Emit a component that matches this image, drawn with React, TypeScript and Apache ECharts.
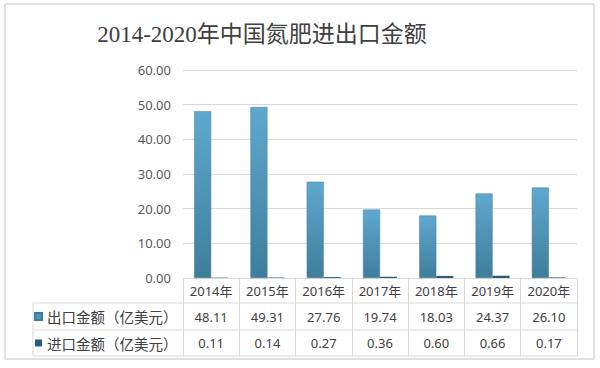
import React, { useEffect, useRef } from "react";
import * as echarts from "echarts";

const years = ["2014年", "2015年", "2016年", "2017年", "2018年", "2019年", "2020年"];
const exportVals = [48.11, 49.31, 27.76, 19.74, 18.03, 24.37, 26.1];
const importVals = [0.11, 0.14, 0.27, 0.36, 0.6, 0.66, 0.17];
const exportName = "出口金额（亿美元）";
const importName = "进口金额（亿美元）";
const titleText = "2014-2020年中国氮肥进出口金额";

export default function App() {
  const ref = useRef<HTMLDivElement>(null);
  useEffect(() => {
    if (!ref.current) return;
    const chart = echarts.init(ref.current, undefined, { renderer: "svg" });
    const lineColor = "#d9d9d9";
    const tableLeft = 33;
    const tableRight = 577;
    const rowYs = [303, 330, 356];
    const graphics: any[] = [
      {
        type: "rect",
        shape: { x: 5, y: 4, width: 589, height: 355 },
        style: { fill: "none", stroke: "#c4c4c4", lineWidth: 1 },
        silent: true,
      },
      ...rowYs.map((y) => ({
        type: "line",
        shape: { x1: tableLeft, y1: y, x2: tableRight, y2: y },
        style: { stroke: lineColor, lineWidth: 1 },
        silent: true,
      })),
      {
        type: "line",
        shape: { x1: tableLeft, y1: rowYs[0], x2: tableLeft, y2: rowYs[2] },
        style: { stroke: lineColor, lineWidth: 1 },
        silent: true,
      },
    ];
    chart.setOption({
      animation: false,
      backgroundColor: "#ffffff",
      textStyle: { fontFamily: "'Noto Sans', 'Noto Sans CJK SC', sans-serif" },
      title: {
        text: titleText,
        left: 257,
        textAlign: "center",
        top: 18,
        textStyle: {
          fontFamily: "'Liberation Serif', 'Noto Sans CJK SC', serif",
          fontSize: 23,
          fontWeight: "normal",
          color: "#404040",
        },
      },
      legend: {
        orient: "vertical",
        left: 34,
        top: 308.5,
        itemWidth: 7,
        itemHeight: 7,
        itemGap: 10.5,
        icon: "rect",
        padding: 0,
        textStyle: {
          fontSize: 14.5,
          lineHeight: 16,
          color: "#404040",
          fontFamily: "'Noto Sans CJK SC', sans-serif",
        },
        data: [
          { name: exportName, itemStyle: { color: "#4d95bb" } },
          { name: importName, itemStyle: { color: "#2c5a7e" } },
        ],
      },
      grid: { left: 183, right: 23, top: 70, bottom: 90, containLabel: false },
      xAxis: {
        type: "category",
        data: years,
        axisLine: { show: true, lineStyle: { color: lineColor } },
        axisTick: { show: true, length: 78, lineStyle: { color: lineColor } },
        axisLabel: {
          margin: 0,
          fontSize: 13,
          lineHeight: 26,
          color: "#404040",
          formatter: (v: string, i: number) =>
            `${v}\n${exportVals[i].toFixed(2)}\n${importVals[i].toFixed(2)}`,
        },
      },
      yAxis: {
        type: "value",
        min: 0,
        max: 60,
        interval: 10,
        axisLine: { show: false },
        axisTick: { show: false },
        axisLabel: {
          fontSize: 13,
          color: "#595959",
          margin: 12,
          formatter: (v: number) => v.toFixed(2),
        },
        splitLine: { lineStyle: { color: lineColor } },
      },
      series: [
        {
          name: exportName,
          type: "bar",
          data: exportVals,
          barWidth: 17,
          barGap: "0%",
          itemStyle: {
            color: new echarts.graphic.LinearGradient(0, 0, 0, 1, [
              { offset: 0, color: "#5ea8cf" },
              { offset: 1, color: "#3f7e9b" },
            ]),
            borderColor: "#3f7a96",
            borderWidth: 0.5,
          },
        },
        {
          name: importName,
          type: "bar",
          data: importVals,
          barWidth: 17,
          itemStyle: { color: "#2c5a7e" },
        },
      ],
      graphic: graphics,
    });
    return () => chart.dispose();
  }, []);
  return <div ref={ref} style={{ width: 600, height: 368, position: "absolute", left: 0, top: 0 }} />;
}
